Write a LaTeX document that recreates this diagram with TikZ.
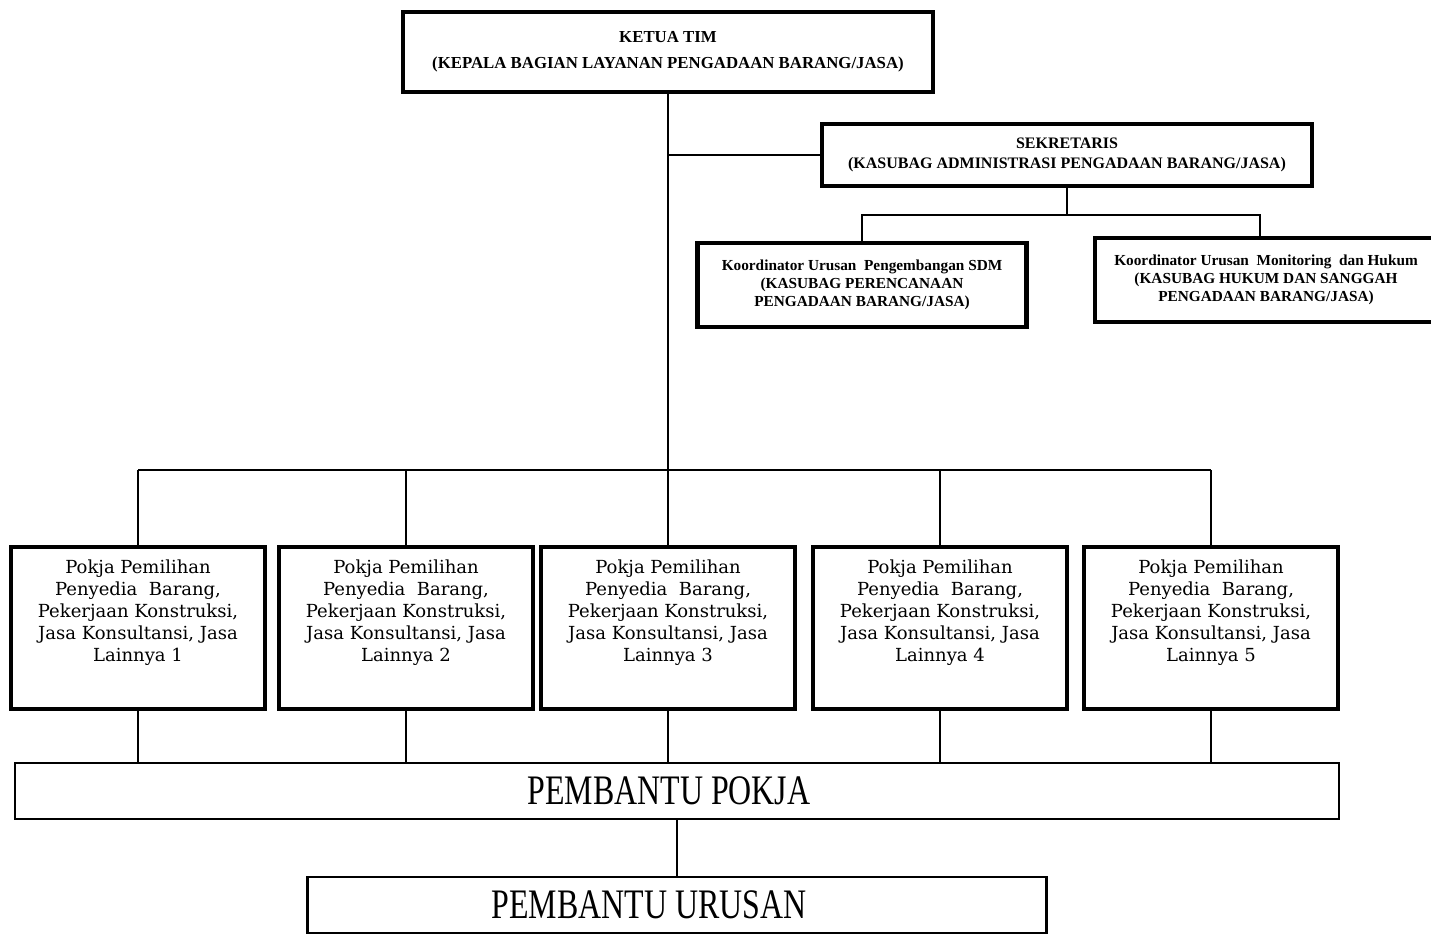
\documentclass[tikz,border=0pt]{standalone}
\usepackage{graphicx}
\usepackage{fontspec}
\setmainfont{Liberation Serif}
\newfontfamily\pokjafont{DejaVu Serif}
\newcommand{\narrowtext}[1]{\scalebox{0.76}[1]{#1}}
\usetikzlibrary{positioning}

\tikzset{
	box/.style={draw, line width=4.5pt, inner sep=0pt, align=center},
	bantubox/.style={draw, line width=2.5pt, inner sep=0pt, align=center,
		font=\fontsize{42}{42}\selectfont},
	conn/.style={line width=1.5pt},
	headtext/.style={font=\bfseries\fontsize{16.8}{26}\selectfont},
	kordtext/.style={font=\bfseries\fontsize{15.3}{18}\selectfont},
	pokjabox/.style={box, minimum width=254pt, minimum height=162pt},
	pokjatext/.style={inner sep=0pt, align=center,
		font=\pokjafont\fontsize{18}{22}\selectfont}
}

\begin{document}
\begin{tikzpicture}[x=1pt, y=-1pt]
		\def\busY{470};
		\def\sekY{215};

		\useasboundingbox (0,0) rectangle (1431,934);

		% pimpinan
		\node[box, headtext, minimum width=530pt, minimum height=80pt] (ketua) at (668,52)
			{KETUA TIM\\(KEPALA BAGIAN LAYANAN PENGADAAN BARANG/JASA)};
		\node[box, headtext, font=\bfseries\fontsize{16}{20}\selectfont,
			minimum width=490pt, minimum height=62pt] (sekr) at (1067,155)
			{SEKRETARIS\\(KASUBAG ADMINISTRASI PENGADAAN BARANG/JASA)};

		\begin{scope}[kordtext]
			\node[box, minimum width=329pt, minimum height=84pt] (sdm) at (862,285)
				{Koordinator Urusan\ \ Pengembangan SDM\\(KASUBAG PERENCANAAN\\PENGADAAN BARANG/JASA)};
			\node[box, minimum width=342pt, minimum height=84pt] (hukum) at (1266,280)
				{Koordinator Urusan\ \ Monitoring\ \ dan Hukum\\(KASUBAG HUKUM DAN SANGGAH\\PENGADAAN BARANG/JASA)};
		\end{scope}

		% pokja
		\foreach \x [count=\i] in {138, 406, 668, 940, 1211} {
			\node[pokjabox] (pokja\i) at (\x,628) {};
			\node[pokjatext, below=15pt of pokja\i.north] (pokjatxt\i)
				{Pokja Pemilihan\\Penyedia\ \ Barang,\\Pekerjaan Konstruksi,\\Jasa Konsultansi, Jasa\\Lainnya \i};
		}

		\node[bantubox, minimum width=1324pt, minimum height=56pt] (bantu) at (677,791)
			{\narrowtext{PEMBANTU POKJA}\hspace*{16pt}};
		\node[bantubox, minimum width=739pt, minimum height=56pt] (urusan) at (677,905)
			{\narrowtext{PEMBANTU URUSAN}\hspace*{56pt}};

		% garis
		\coordinate (bus) at (0,\busY);
		\coordinate (sekbar) at (0,\sekY);

		\begin{scope}[conn]
			\draw (ketua.south) -- (pokja3.north);
			\draw (ketua.south |- sekr.west) -- (sekr.west);

			\draw (sekr.south) -- (sekr.south |- sekbar);
			\draw (sdm.north) -- (sdm.north |- sekbar)
				-- ([xshift=-6pt]hukum.north |- sekbar) -- ([xshift=-6pt]hukum.north);

			\draw (pokja1.north |- bus) -- (pokja5.north |- bus);
			\foreach \i in {1,2,4,5}
				\draw (pokja\i.north |- bus) -- (pokja\i.north);
			\foreach \i in {1,...,5}
				\draw (pokja\i.south) -- (pokja\i.south |- bantu.north);

			\draw (bantu.south) -- (urusan.north);
		\end{scope}
	\end{tikzpicture}
\end{document}
